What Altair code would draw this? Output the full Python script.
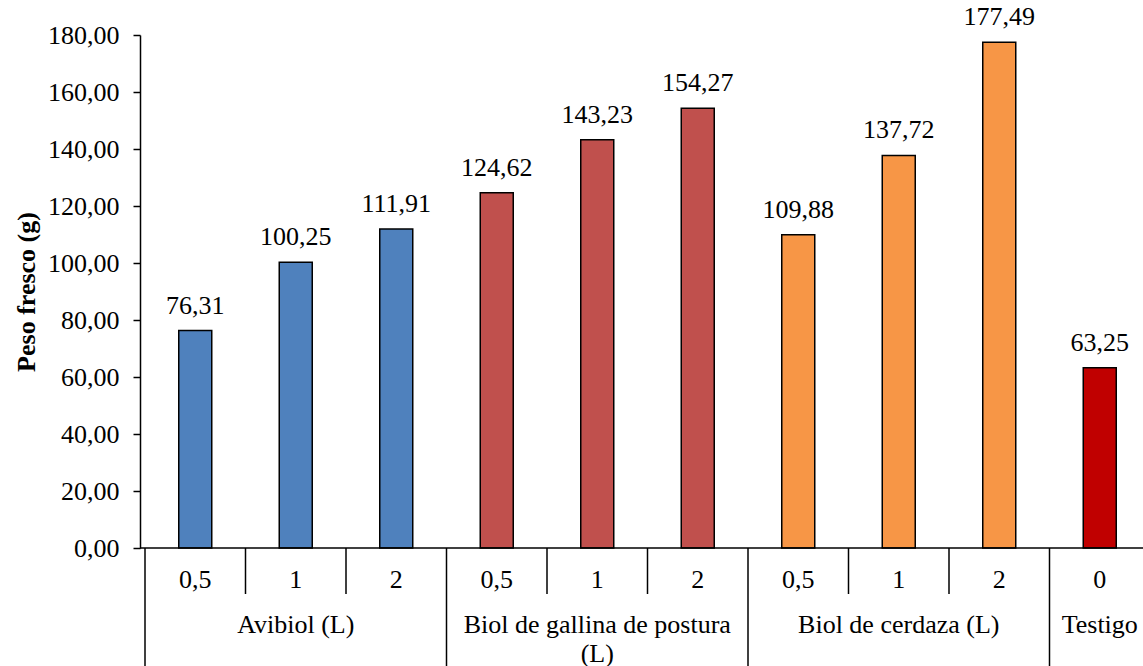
import altair as alt
import pandas as pd

groups = ["Avibiol (L)"] * 3 + ["Biol de gallina de postura\n(L)"] * 3 + ["Biol de cerdaza (L)"] * 3 + ["Testigo"]
doses = ["0,5", "1", "2", "0,5", "1", "2", "0,5", "1", "2", "0"]
values = [76.31, 100.25, 111.91, 124.62, 143.23, 154.27, 109.88, 137.72, 177.49, 63.25]
colors = ["#4F81BD"] * 3 + ["#C0504D"] * 3 + ["#F79646"] * 3 + ["#C00000"]

FONT = "Tinos, 'Nimbus Roman', 'Nimbus Roman No9 L', FreeSerif, Times, 'DejaVu Serif'"
W, H = 1003, 513
SLOT = 101.5
n = len(values)

df = pd.DataFrame({
    "idx": [i + 0.5 for i in range(n)],
    "group": groups,
    "dose": doses,
    "value": values,
    "color": colors,
    "label": [f"{v:.2f}".replace(".", ",") for v in values],
})

gstart, gend, gname = [], [], []
for i, g in enumerate(groups):
    if i == 0 or groups[i - 1] != g:
        gstart.append(i); gname.append(g); gend.append(i + 1)
    else:
        gend[-1] = i + 1
gdf = pd.DataFrame({"name": gname, "start": gstart, "end": gend,
                    "mid": [(a + b) / 2 for a, b in zip(gstart, gend)]})
major = sorted(set(gstart + [n]))
minor = [i for i in range(1, n) if i not in major]
major_df = pd.DataFrame({"pos": major})
minor_df = pd.DataFrame({"pos": minor})

xs = alt.Scale(domain=[0, n], range=[0, n * SLOT])
ys = alt.Scale(domain=[0, 180])

bars = alt.Chart(df).mark_bar(width=33, stroke="black", strokeWidth=1.5).encode(
    x=alt.X("idx:Q", scale=xs, axis=None),
    y=alt.Y("value:Q", scale=ys, axis=alt.Axis(
        values=list(range(0, 181, 20)),
        labelExpr="replace(format(datum.value, '.2f'), '.', ',')",
        labelFont=FONT, labelFontSize=26, labelColor="black", labelPadding=14,
        tickColor="black", tickSize=7, tickWidth=1.5,
        domainColor="black", domainWidth=1.5, grid=False,
        title="Peso fresco (g)", titleFont=FONT, titleFontSize=26, titleFontWeight="bold",
        titleColor="black", titleX=-114, titleY=H / 2, titleAngle=270,
        titleAlign="center", titleBaseline="middle",
    )),
    color=alt.Color("color:N", scale=None),
)

vlabels = alt.Chart(df).mark_text(font=FONT, fontSize=26, color="black",
                                  baseline="alphabetic", dy=-17).encode(
    x=alt.X("idx:Q", scale=xs), y=alt.Y("value:Q", scale=ys), text="label:N")

baseline = alt.Chart(pd.DataFrame({"a": [0]})).mark_rule(color="black", strokeWidth=1.5).encode(
    x=alt.value(0), x2=alt.value(n * SLOT), y=alt.value(H))

minor_rules = alt.Chart(minor_df).mark_rule(color="black", strokeWidth=1.5).encode(
    x=alt.X("pos:Q", scale=xs), y=alt.value(H), y2=alt.value(H + 46))

major_rules = alt.Chart(major_df).mark_rule(color="black", strokeWidth=1.5).encode(
    x=alt.X("pos:Q", scale=xs), y=alt.value(H), y2=alt.value(H + 140))

dose_text = alt.Chart(df).mark_text(font=FONT, fontSize=26, color="black",
                                    baseline="alphabetic").encode(
    x=alt.X("idx:Q", scale=xs), y=alt.value(H + 40), text="dose:N")

group_text = alt.Chart(gdf).mark_text(font=FONT, fontSize=26, color="black",
                                      baseline="alphabetic", lineBreak="\n",
                                      lineHeight=29).encode(
    x=alt.X("mid:Q", scale=xs), y=alt.value(H + 85), text="name:N")

chart = alt.layer(bars, vlabels, baseline, minor_rules, major_rules, dose_text, group_text).properties(
    width=W, height=H,
    autosize=alt.AutoSizeParams(type="none"),
    padding={"left": 140, "top": 35, "right": 0, "bottom": 118},
    background="white",
).configure_view(stroke=None)

chart.save("out.html", embed_options={"renderer": "svg", "actions": False})
